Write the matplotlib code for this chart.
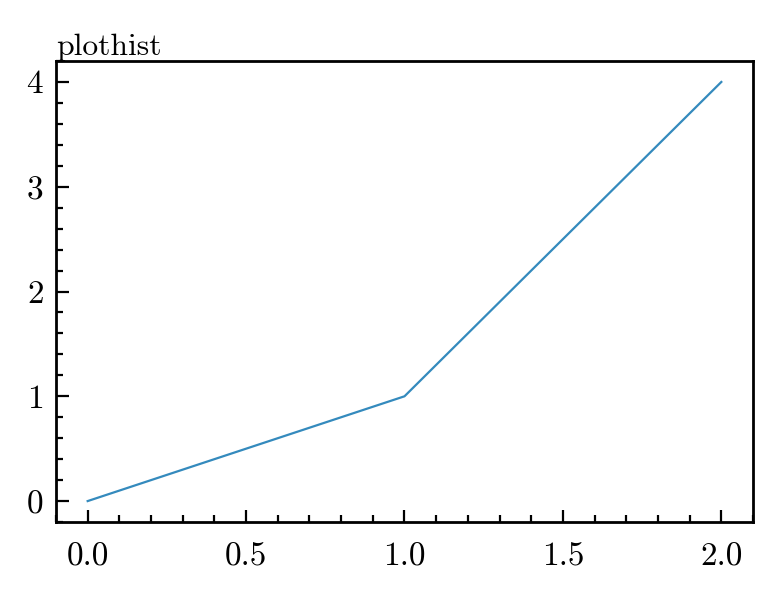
import matplotlib
matplotlib.use("Agg")
import matplotlib.pyplot as plt
from matplotlib.ticker import MultipleLocator

x_values = [0.0, 1.0, 2.0]
y_values = [0.0, 1.0, 4.0]
title_text = "plothist"

plt.rcParams.update({
    "font.family": "serif",
    "font.serif": ["cmr10"],
    "mathtext.fontset": "cm",
    "axes.formatter.use_mathtext": True,
    "font.size": 9.5,
})

fig = plt.figure(figsize=(3.915, 3.005), dpi=200)
ax = fig.add_axes([0.0715, 0.1314, 0.8902, 0.7671])
ax.plot(x_values, y_values, color="#348ABD", linewidth=0.8)
ax.set_xlim(-0.1, 2.1)
ax.set_ylim(-0.2, 4.2)
ax.xaxis.set_major_locator(MultipleLocator(0.5))
ax.xaxis.set_minor_locator(MultipleLocator(0.1))
ax.yaxis.set_major_locator(MultipleLocator(1))
ax.yaxis.set_minor_locator(MultipleLocator(0.2))
ax.xaxis.set_major_formatter(matplotlib.ticker.FormatStrFormatter("%.1f"))
ax.tick_params(which="both", direction="in", top=False, right=False, width=0.8)
ax.tick_params(which="major", length=4.5, labelsize=12)
ax.tick_params(axis="x", which="major", pad=7.5)
ax.tick_params(axis="y", which="major", pad=4.5)
ax.tick_params(which="minor", length=2.5)
for s in ax.spines.values():
    s.set_linewidth(1.0)
ax.set_title(title_text, loc="left", pad=2, fontsize=11.4)
fig.savefig("out.png", dpi=200)
